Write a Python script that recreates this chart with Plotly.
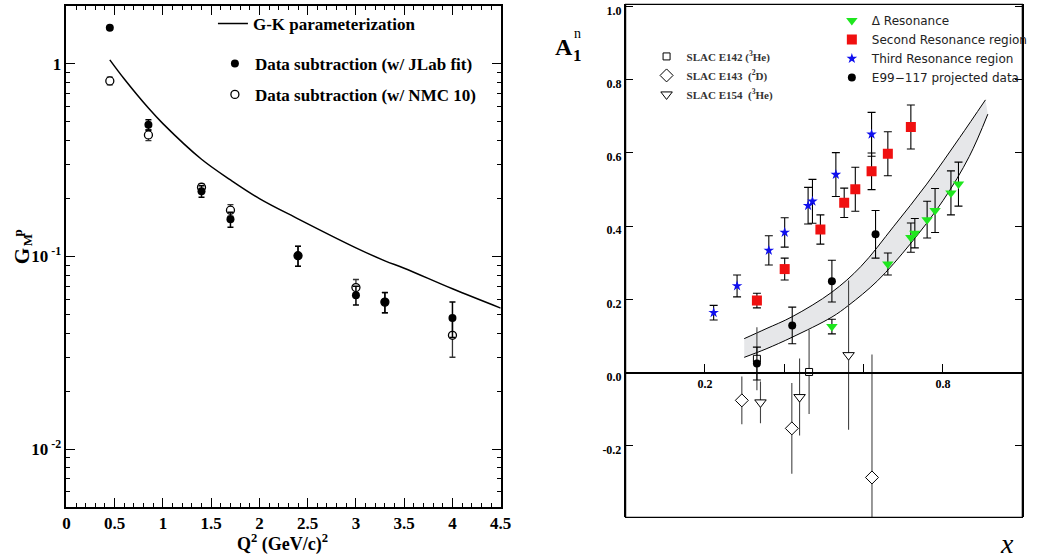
import plotly.graph_objects as go
import math

W, H = 1037, 559

# ---------------- Left panel data (G_M^p vs Q^2) ----------------
q2_gk = [0.45, 0.6, 0.85, 1.0, 1.4, 1.7, 2.0, 2.4, 3.0, 3.3, 3.5, 4.0, 4.5]
gm_gk = [1.05, 0.835, 0.59, 0.49, 0.32, 0.25, 0.20, 0.157, 0.111, 0.095, 0.087, 0.068, 0.054]

q2_jlab = [0.45, 0.85, 1.4, 1.7, 2.4, 3.0, 3.3, 4.0]
gm_jlab = [1.54, 0.483, 0.218, 0.156, 0.101, 0.063, 0.058, 0.048]
er_jlab = [0.0, 0.030, 0.015, 0.014, 0.012, 0.007, 0.007, 0.010]

q2_nmc = [0.45, 0.85, 1.4, 1.7, 2.4, 3.0, 3.3, 4.0]
gm_nmc = [0.816, 0.428, 0.229, 0.174, 0.101, 0.069, 0.058, 0.039]
er_nmc = [0.037, 0.028, 0.010, 0.012, 0.012, 0.007, 0.007, 0.009]

left_xticks = [0, 0.5, 1, 1.5, 2, 2.5, 3, 3.5, 4, 4.5]
left_xticktext = ["0", "0.5", "1", "1.5", "2", "2.5", "3", "3.5", "4", "4.5"]
left_yticks = [0.01, 0.1, 1]
left_yticktext = ["10<sup> -2</sup>", "10<sup> -1</sup>", "1"]

# ---------------- Right panel data (A1n vs x) ----------------
x_delta = [0.520, 0.661, 0.719, 0.729, 0.760, 0.780, 0.820, 0.839]
a_delta = [0.126, 0.297, 0.369, 0.381, 0.418, 0.443, 0.491, 0.515]
e_delta = [0.02, 0.03, 0.04, 0.04, 0.05, 0.06, 0.06, 0.06]

x_second = [0.331, 0.401, 0.491, 0.551, 0.579, 0.620, 0.661, 0.719]
a_second = [0.197, 0.283, 0.391, 0.464, 0.501, 0.550, 0.598, 0.671]
e_second = [0.02, 0.03, 0.04, 0.04, 0.06, 0.05, 0.06, 0.06]

x_third = [0.222, 0.281, 0.361, 0.401, 0.460, 0.471, 0.530, 0.620]
a_third = [0.164, 0.237, 0.334, 0.383, 0.456, 0.468, 0.541, 0.651]
e_third = [0.02, 0.03, 0.04, 0.04, 0.05, 0.06, 0.06, 0.06]

x_e99 = [0.331, 0.420, 0.520, 0.630]
a_e99 = [0.025, 0.129, 0.250, 0.378]
e_e99 = [0.045, 0.05, 0.057, 0.065]

x_e142 = [0.331, 0.4625]
a_e142 = [0.038, 0.002]
e_e142 = [0.086, 0.115]

x_e143 = [0.293, 0.419, 0.621]
a_e143 = [-0.0755, -0.152, -0.286]
e_e143 = [0.065, 0.124, 0.336]

x_e154 = [0.340, 0.4385, 0.562]
a_e154 = [-0.081, -0.0665, 0.048]
e_e154 = [0.057, 0.105, 0.204]

band_x_up = [0.299, 0.354, 0.420, 0.520, 0.593, 0.676, 0.759, 0.842, 0.907]
band_y_up = [0.093, 0.120, 0.153, 0.220, 0.290, 0.400, 0.515, 0.642, 0.745]
band_x_lo = [0.299, 0.354, 0.420, 0.520, 0.562, 0.635, 0.717, 0.800, 0.866, 0.913]
band_y_lo = [0.042, 0.065, 0.097, 0.152, 0.184, 0.251, 0.351, 0.470, 0.590, 0.706]

right_yticks = [-0.2, 0.0, 0.2, 0.4, 0.6, 0.8, 1.0]
right_yticktext = ["-0.2", "0.0", "0.2", "0.4", "0.6", "0.8", "1.0"]
right_xticks = [0.2, 0.8]
right_xticktext = ["0.2", "0.8"]
right_xminor = [0.4, 0.6]

# ---------------- layout geometry ----------------
SERIF = "Liberation Serif"
SANS = "DejaVu Sans"

lx0, lx1, ly0, ly1 = 63.3, 504.0, 5.0, 507.0       # left plot box (px)
rx0, rx1, ry0, ry1 = 630.7, 1033.3, 3.3, 517.3     # right plot box (px)
left_yrange = [math.log10(0.005), math.log10(2.0)]
right_yrange = [-0.395, 1.006]

def dom_x(a, b):
    return [a / W, b / W]

def dom_y(top, bottom):
    return [1 - bottom / H, 1 - top / H]

def px(x):
    return x / W

def py(y):
    return 1 - y / H

y2dom = dom_y(ry0, ry1)
zero_pos = y2dom[0] + (0 - right_yrange[0]) / (right_yrange[1] - right_yrange[0]) * (y2dom[1] - y2dom[0])

fig = go.Figure()

# ---- left panel traces ----
fig.add_trace(go.Scatter(
    x=q2_gk, y=gm_gk, mode="lines", name="G-K parameterization",
    line=dict(color="black", width=1.5, shape="spline"),
    xaxis="x", yaxis="y", legend="legend"))
fig.add_trace(go.Scatter(
    x=q2_nmc, y=gm_nmc, mode="markers", name="Data subtraction (w/ NMC 10)",
    marker=dict(symbol="circle", size=8, color="white", line=dict(color="black", width=1.3)),
    error_y=dict(type="data", array=er_nmc, color="#333333", thickness=1.3, width=3),
    xaxis="x", yaxis="y", legend="legend3"))
fig.add_trace(go.Scatter(
    x=q2_jlab, y=gm_jlab, mode="markers", name="Data subtraction (w/ JLab fit)",
    marker=dict(symbol="circle", size=8, color="black"),
    error_y=dict(type="data", array=er_jlab, color="black", thickness=1.5, width=3),
    xaxis="x", yaxis="y", legend="legend2"))

# ---- right panel traces ----
fig.add_trace(go.Scatter(
    x=band_x_lo, y=band_y_lo, mode="lines", line=dict(color="black", width=1, shape="spline"),
    showlegend=False, hoverinfo="skip", xaxis="x2", yaxis="y2"))
fig.add_trace(go.Scatter(
    x=band_x_up, y=band_y_up, mode="lines", line=dict(color="black", width=1, shape="spline"),
    fill="tonexty", fillcolor="rgba(200,202,206,0.45)",
    showlegend=False, hoverinfo="skip", xaxis="x2", yaxis="y2"))

slac_err = dict(type="data", color="#444444", thickness=1.1, width=0)
fig.add_trace(go.Scatter(
    x=x_e142, y=a_e142, mode="markers", name="SLAC E142 (<sup>3</sup>He)",
    marker=dict(symbol="square", size=7, color="white", line=dict(color="black", width=1)),
    error_y=dict(slac_err, array=e_e142), xaxis="x2", yaxis="y2", legend="legend5"))
fig.add_trace(go.Scatter(
    x=x_e143, y=a_e143, mode="markers", name="SLAC E143  (<sup>2</sup>D)",
    marker=dict(symbol="diamond", size=10, color="white", line=dict(color="black", width=1)),
    error_y=dict(slac_err, array=e_e143), xaxis="x2", yaxis="y2", legend="legend5"))
fig.add_trace(go.Scatter(
    x=x_e154, y=a_e154, mode="markers", name="SLAC E154  (<sup>3</sup>He)",
    marker=dict(symbol="triangle-down", size=10, color="white", line=dict(color="black", width=1)),
    error_y=dict(slac_err, array=e_e154), xaxis="x2", yaxis="y2", legend="legend5"))

res_err = dict(type="data", color="black", thickness=1.1, width=4)
fig.add_trace(go.Scatter(
    x=x_delta, y=a_delta, mode="markers", name="\u0394 Resonance",
    marker=dict(symbol="triangle-down", size=10, color="#1ee61e", line=dict(width=0)),
    error_y=dict(res_err, array=e_delta), xaxis="x2", yaxis="y2", legend="legend4"))
fig.add_trace(go.Scatter(
    x=x_second, y=a_second, mode="markers", name="Second Resonance region",
    marker=dict(symbol="square", size=10, color="#f01010", line=dict(width=0)),
    error_y=dict(res_err, array=e_second), xaxis="x2", yaxis="y2", legend="legend4"))
fig.add_trace(go.Scatter(
    x=x_third, y=a_third, mode="markers", name="Third Resonance region",
    marker=dict(symbol="star", size=8, color="#1010ee", line=dict(width=0)),
    error_y=dict(res_err, array=e_third), xaxis="x2", yaxis="y2", legend="legend4"))
fig.add_trace(go.Scatter(
    x=x_e99, y=a_e99, mode="markers", name="E99\u2212117 projected data",
    marker=dict(symbol="circle", size=8, color="black"),
    error_y=dict(res_err, array=e_e99), xaxis="x2", yaxis="y2", legend="legend4"))

# ---------------- axes ----------------
serif_big = dict(family=SERIF, size=17, color="black", weight="bold")
serif_small = dict(family=SERIF, size=12, color="black", weight="bold")

minor_log = [k * 10 ** n for n in (-3, -2, -1, 0) for k in range(2, 10)
             if 0.005 <= k * 10 ** n <= 2.0]

fig.update_layout(
    width=W, height=H, margin=dict(l=0, r=0, t=0, b=0),
    paper_bgcolor="white", plot_bgcolor="white",
    xaxis=dict(domain=dom_x(lx0, lx1), range=[0, 4.5], anchor="y",
               tickvals=left_xticks, ticktext=left_xticktext,
               ticks="inside", ticklen=9, tickwidth=1.3, tickcolor="black",
               minor=dict(dtick=0.1, ticks="inside", ticklen=4, tickwidth=1, tickcolor="black"),
               showline=True, linewidth=1.6, linecolor="black", mirror="allticks",
               showgrid=False, zeroline=False, tickfont=serif_big),
    yaxis=dict(domain=dom_y(ly0, ly1), type="log", range=left_yrange, anchor="x",
               tickvals=left_yticks, ticktext=left_yticktext,
               ticks="inside", ticklen=9, tickwidth=1.3, tickcolor="black",
               minor=dict(tickvals=minor_log, ticks="inside", ticklen=4, tickwidth=1, tickcolor="black"),
               showline=True, linewidth=1.6, linecolor="black", mirror="allticks",
               showgrid=False, zeroline=False, tickfont=serif_big),
    xaxis2=dict(domain=dom_x(rx0, rx1), range=[0, 1], anchor="free", position=zero_pos,
                tickvals=right_xticks, ticktext=right_xticktext,
                ticks="inside", ticklen=8, tickwidth=1.2, tickcolor="black",
                minor=dict(tickvals=right_xminor, ticks="inside", ticklen=8, tickwidth=1.2,
                           tickcolor="black"),
                showline=True, linewidth=2, linecolor="black",
                showgrid=False, zeroline=False, tickfont=serif_small),
    yaxis2=dict(domain=y2dom, range=right_yrange, anchor="x2",
                tickvals=right_yticks, ticktext=right_yticktext,
                ticks="inside", ticklen=8, tickwidth=1.2, tickcolor="black",
                showline=True, linewidth=1.6, linecolor="black", mirror="allticks",
                showgrid=False, zeroline=False, tickfont=serif_small, ticklabelshift=4),
    shapes=[dict(type="rect", xref="x2 domain", yref="y2 domain", x0=0, x1=1, y0=0, y1=1,
                 line=dict(color="black", width=1.3), fillcolor="rgba(0,0,0,0)")],
)

leg_common = dict(bgcolor="rgba(0,0,0,0)", borderwidth=0, xanchor="left")
fig.update_layout(
    legend=dict(leg_common, x=px(212), y=py(23), yanchor="middle", font=serif_big),
    legend2=dict(leg_common, x=px(214), y=py(63), yanchor="middle", font=serif_big),
    legend3=dict(leg_common, x=px(214), y=py(94), yanchor="middle", font=serif_big),
    legend4=dict(leg_common, x=px(840), y=py(5), yanchor="top",
                 font=dict(family=SANS, size=12, color="#222222")),
    legend5=dict(leg_common, x=px(652), y=py(41), yanchor="top",
                 font=dict(family=SERIF, size=11, color="#333333", weight="bold")),
)

ann = []
def add_text(text, x, y, size, family=SERIF, angle=0, bold=True, italic=False):
    ann.append(dict(text=text, x=px(x), y=py(y), xref="paper", yref="paper",
                    showarrow=False, textangle=angle, xanchor="center", yanchor="middle",
                    font=dict(family=family, size=size, color="black",
                              weight="bold" if bold else "normal",
                              style="italic" if italic else "normal")))

add_text("Q<sup>2</sup> (GeV/c)<sup>2</sup>", 283, 543, 18)
add_text("G", 18, 256, 21, angle=-90)
add_text("M", 24, 240, 13, angle=-90)
add_text("p", 14, 232, 13, angle=-90)
add_text("A", 568, 46, 24)
add_text("n", 582, 33, 14, bold=False)
add_text("1", 582, 55, 17)
add_text("x", 1018, 543, 28, bold=False, italic=True)
fig.update_layout(annotations=ann)

fig.write_html("out.html")
